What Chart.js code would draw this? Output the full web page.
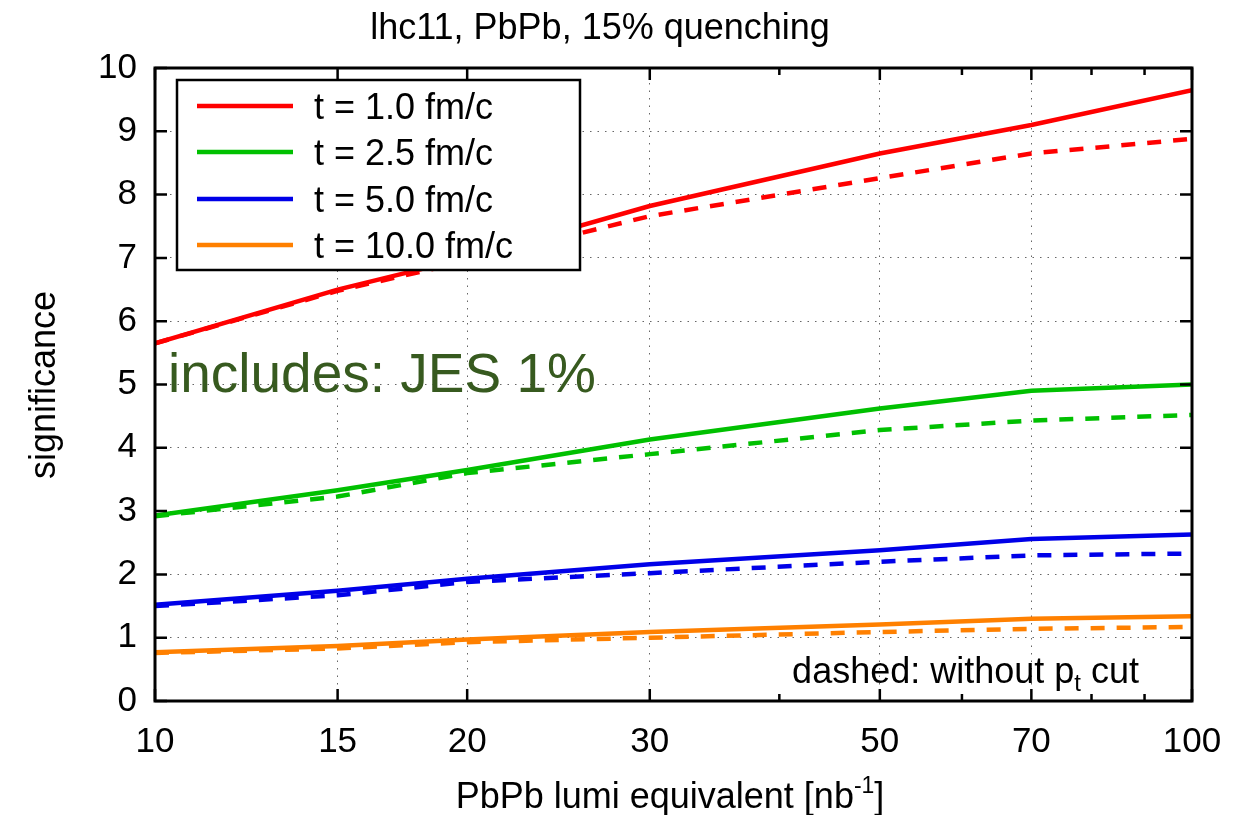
<!DOCTYPE html>
<html>
<head>
<meta charset="utf-8">
<script src="https://cdn.jsdelivr.net/npm/chart.js@4"></script>
<style>
  html, body { margin: 0; padding: 0; background: #fff; }
  #wrap { width: 1257px; height: 815px; }
</style>
</head>
<body>
<div id="wrap"><canvas id="sig"></canvas></div>
<script>
// luminosity points (nb^-1) and axis ticks
const lumi = [10, 15, 20, 30, 50, 70, 100];
const xTicks = [10, 15, 20, 30, 50, 70, 100];
const xMinor = [40, 60, 80, 90];
const yTicks = [0, 1, 2, 3, 4, 5, 6, 7, 8, 9, 10];

// significance with pt cut (solid)
const sigT1 = [5.65, 6.5, 7.0, 7.82, 8.65, 9.1, 9.65];
const sigT25 = [2.93, 3.33, 3.65, 4.13, 4.62, 4.9, 5.0];
const sigT5 = [1.52, 1.74, 1.93, 2.16, 2.38, 2.56, 2.63];
const sigT10 = [0.77, 0.87, 0.97, 1.09, 1.21, 1.3, 1.34];

// significance without pt cut (dashed)
const sigT1NoCut = [5.65, 6.48, 6.95, 7.66, 8.26, 8.65, 8.88];
const sigT25NoCut = [2.92, 3.23, 3.6, 3.9, 4.28, 4.43, 4.52];
const sigT5NoCut = [1.5, 1.67, 1.88, 2.02, 2.2, 2.3, 2.33];
const sigT10NoCut = [0.76, 0.83, 0.93, 1.0, 1.09, 1.14, 1.17];

const labels = ['t = 1.0 fm/c', 't = 2.5 fm/c', 't = 5.0 fm/c', 't = 10.0 fm/c'];
const colors = ['#ff0000', '#00c000', '#0000e8', '#ff8000'];

const FONT = "'Liberation Sans', Arial, Helvetica, sans-serif";

function pts(ys) {
  return lumi.map((x, i) => ({ x: x, y: ys[i] }));
}

const solid = [sigT1, sigT25, sigT5, sigT10].map((ys, i) => ({
  label: labels[i],
  data: pts(ys),
  borderColor: colors[i],
  borderWidth: 4.5,
  pointRadius: 0,
  tension: 0,
  fill: false,
}));
const dashed = [sigT1NoCut, sigT25NoCut, sigT5NoCut, sigT10NoCut].map((ys, i) => ({
  label: labels[i] + ' (no cut)',
  data: pts(ys),
  borderColor: colors[i],
  borderWidth: 4.5,
  borderDash: [14, 12],
  pointRadius: 0,
  tension: 0,
  fill: false,
  noLegend: true,
}));

// text with a raised or lowered part, drawn piece by piece
function drawRich(ctx, parts, x, y, align) {
  let total = 0;
  parts.forEach(p => { ctx.font = p.size + 'px ' + FONT; p.w = ctx.measureText(p.t).width; total += p.w; });
  let cx = align === 'center' ? x - total / 2 : (align === 'right' ? x - total : x);
  ctx.textAlign = 'left';
  ctx.textBaseline = 'alphabetic';
  parts.forEach(p => {
    ctx.font = p.size + 'px ' + FONT;
    ctx.fillText(p.t, cx, y + (p.dy || 0));
    cx += p.w;
  });
}

const decor = {
  id: 'decor',
  afterDraw(chart) {
    const ctx = chart.ctx;
    const a = chart.chartArea;
    const xs = chart.scales.x, ys = chart.scales.y;
    ctx.save();

    // frame
    ctx.strokeStyle = '#000';
    ctx.lineWidth = 3;
    ctx.strokeRect(a.left, a.top, a.right - a.left, a.bottom - a.top);

    // inward tick marks on all four sides
    ctx.lineWidth = 2.5;
    ctx.beginPath();
    yTicks.forEach(v => {
      const py = ys.getPixelForValue(v);
      ctx.moveTo(a.left, py); ctx.lineTo(a.left + 12, py);
      ctx.moveTo(a.right, py); ctx.lineTo(a.right - 12, py);
    });
    xTicks.forEach(v => {
      const px = xs.getPixelForValue(v);
      ctx.moveTo(px, a.bottom); ctx.lineTo(px, a.bottom - 12);
      ctx.moveTo(px, a.top); ctx.lineTo(px, a.top + 12);
    });
    xMinor.forEach(v => {
      const px = xs.getPixelForValue(v);
      ctx.moveTo(px, a.bottom); ctx.lineTo(px, a.bottom - 7);
      ctx.moveTo(px, a.top); ctx.lineTo(px, a.top + 7);
    });
    ctx.stroke();

    // legend box
    const lx = 177, ly = 80, lw = 403, lh = 190;
    ctx.fillStyle = '#fff';
    ctx.fillRect(lx, ly, lw, lh);
    ctx.lineWidth = 2.5;
    ctx.strokeRect(lx, ly, lw, lh);
    const rows = [106, 152, 199, 245];
    chart.data.datasets.filter(d => !d.noLegend).forEach((d, i) => {
      ctx.strokeStyle = d.borderColor;
      ctx.lineWidth = 4.5;
      ctx.beginPath();
      ctx.moveTo(197, rows[i]); ctx.lineTo(293, rows[i]);
      ctx.stroke();
      ctx.fillStyle = '#000';
      ctx.font = '36px ' + FONT;
      ctx.textAlign = 'left';
      ctx.textBaseline = 'alphabetic';
      ctx.fillText(d.label, 314, rows[i] + 12.5);
    });

    // title
    ctx.fillStyle = '#000';
    ctx.font = '36px ' + FONT;
    ctx.textAlign = 'center';
    ctx.textBaseline = 'alphabetic';
    ctx.fillText('lhc11, PbPb, 15% quenching', 600, 39);

    // axis titles
    drawRich(ctx, [
      { t: 'PbPb lumi equivalent [nb', size: 36 },
      { t: '-1', size: 23, dy: -15 },
      { t: ']', size: 36 },
    ], 670, 808, 'center');

    ctx.save();
    ctx.translate(55, 385);
    ctx.rotate(-Math.PI / 2);
    ctx.font = '36px ' + FONT;
    ctx.textAlign = 'center';
    ctx.textBaseline = 'alphabetic';
    ctx.fillText('significance', 0, 0);
    ctx.restore();

    // notes inside the plot
    ctx.fillStyle = '#375a1f';
    ctx.font = '55px ' + FONT;
    ctx.textAlign = 'left';
    ctx.fillText('includes: JES 1%', 168, 392);

    ctx.fillStyle = '#000';
    drawRich(ctx, [
      { t: 'dashed: without p', size: 36 },
      { t: 't', size: 24, dy: 8 },
      { t: ' cut', size: 36 },
    ], 1139, 683, 'right');

    ctx.restore();
  }
};

new Chart(document.getElementById('sig'), {
  type: 'line',
  data: { datasets: solid.concat(dashed) },
  options: {
    responsive: true,
    maintainAspectRatio: false,
    animation: false,
    layout: { padding: { top: 68, right: 65, left: 0, bottom: 0 } },
    plugins: {
      legend: { display: false },
      title: { display: false },
      tooltip: { enabled: false },
    },
    scales: {
      x: {
        type: 'logarithmic',
        min: 10,
        max: 100,
        afterBuildTicks: s => { s.ticks = xTicks.map(v => ({ value: v })); },
        afterFit: s => { s.height = 114; },
        ticks: {
          autoSkip: false,
          maxRotation: 0,
          padding: 20,
          color: '#000',
          font: { family: FONT, size: 35 },
          callback: v => String(v),
        },
        grid: { color: '#666', lineWidth: 1, drawTicks: false },
        border: { display: false, dash: [1.5, 6] },
      },
      y: {
        type: 'linear',
        min: 0,
        max: 10,
        afterBuildTicks: s => { s.ticks = yTicks.map(v => ({ value: v })); },
        afterFit: s => { s.width = 155; },
        ticks: {
          padding: 18,
          color: '#000',
          font: { family: FONT, size: 35 },
        },
        grid: { color: '#666', lineWidth: 1, drawTicks: false },
        border: { display: false, dash: [1.5, 6] },
      },
    },
  },
  plugins: [decor],
});
</script>
</body>
</html>
